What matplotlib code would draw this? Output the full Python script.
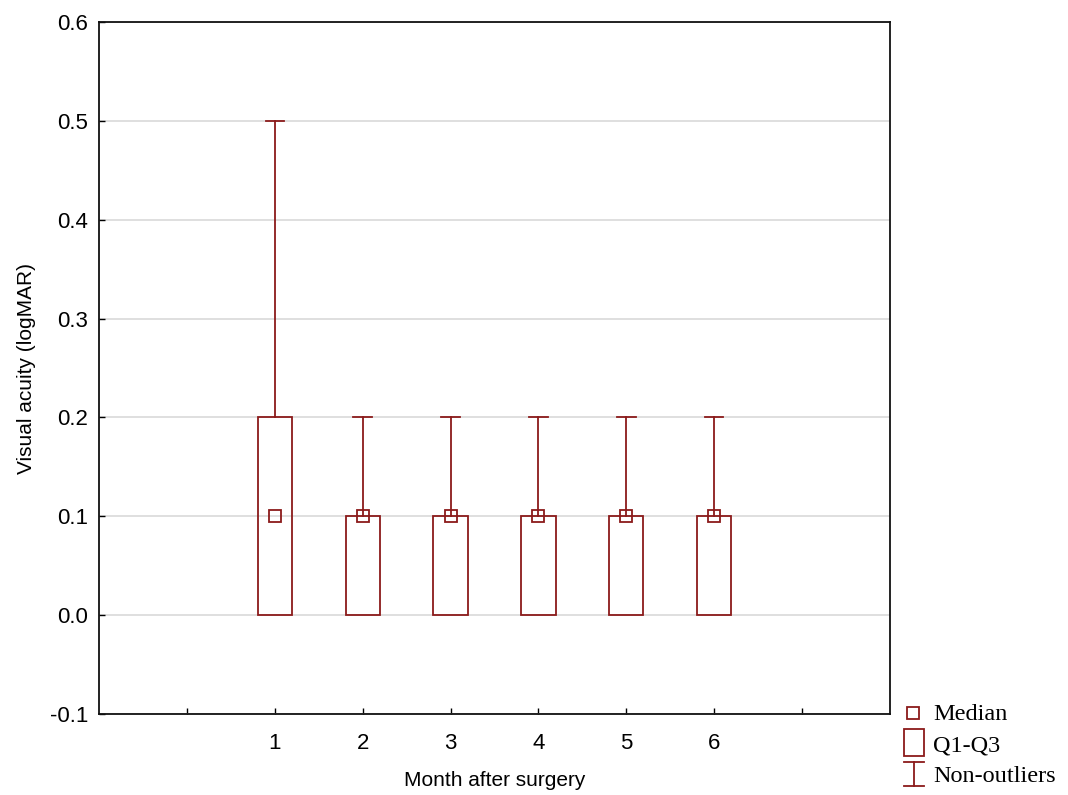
import matplotlib.pyplot as plt
from matplotlib.patches import Rectangle
from matplotlib.lines import Line2D

# データ
months = [1, 2, 3, 4, 5, 6]
medians = [0.1, 0.1, 0.1, 0.1, 0.1, 0.1]
q1 = [0.0, 0.0, 0.0, 0.0, 0.0, 0.0]
q3 = [0.2, 0.1, 0.1, 0.1, 0.1, 0.1]
whisk_lo = [0.0, 0.0, 0.0, 0.0, 0.0, 0.0]
whisk_hi = [0.5, 0.2, 0.2, 0.2, 0.2, 0.2]

col = "#8b1a1a"
plt.rcParams['font.family'] = ['Liberation Sans', 'DejaVu Sans']

fig = plt.figure(figsize=(10.68, 7.95), dpi=100)
ax = fig.add_axes([0.0927, 0.1019, 0.7406, 0.8704])

box_w = 0.39
cap_w = 0.21
for m, med, lo, hi, wl, wh in zip(months, medians, q1, q3, whisk_lo, whisk_hi):
    ax.add_patch(Rectangle((m - box_w / 2, lo), box_w, hi - lo,
                           fill=False, edgecolor=col, lw=1.3, zorder=3))
    ax.plot([m, m], [hi, wh], color=col, lw=1.3, zorder=3)
    ax.plot([m - cap_w / 2, m + cap_w / 2], [wh, wh], color=col, lw=1.3, zorder=3)
    ax.plot([m, m], [wl, lo], color=col, lw=1.3, zorder=3)
    ax.plot(m, med, marker="s", ms=8, mfc="none", mec=col, mew=1.3, zorder=4)

ax.set_xlim(-1, 8)
ax.set_ylim(-0.1, 0.6)
ax.set_xticks(range(0, 8))
ax.set_xticklabels([""] + [str(m) for m in months] + [""])
ax.set_yticks([-0.1, 0.0, 0.1, 0.2, 0.3, 0.4, 0.5, 0.6])
ax.set_yticklabels(["-0.1", "0.0", "0.1", "0.2", "0.3", "0.4", "0.5", "0.6"])
ax.yaxis.grid(True, color="#d9d9d9", lw=1.2, zorder=0)
ax.set_axisbelow(True)
ax.tick_params(direction="in", length=4, width=1, labelsize=16)
ax.tick_params(axis="x", pad=14)
ax.tick_params(axis="y", pad=8)
for s in ax.spines.values():
    s.set_linewidth(1.3)
    s.set_color("#111111")

ax.set_xlabel("Month after surgery", fontsize=15, labelpad=12)
ax.set_ylabel("Visual acuity (logMAR)", fontsize=15, labelpad=10)

# 凡例（右下、図座標で手描き）
def fx(px):
    return px / 1068

def fy(py):
    return 1 - py / 795

fig.add_artist(Line2D([fx(913)], [fy(713)], marker="s", ms=8, mfc="none",
                      mec=col, mew=1.3, transform=fig.transFigure))
fig.add_artist(Rectangle((fx(904), fy(756)), fx(924) - fx(904), fy(729) - fy(756),
                         fill=False, edgecolor=col, lw=1.3, transform=fig.transFigure))
fig.add_artist(Line2D([fx(914), fx(914)], [fy(762), fy(786)], color=col, lw=1.3,
                      transform=fig.transFigure))
fig.add_artist(Line2D([fx(904), fx(924)], [fy(762), fy(762)], color=col, lw=1.3,
                      transform=fig.transFigure))
fig.add_artist(Line2D([fx(904), fx(924)], [fy(786), fy(786)], color=col, lw=1.3,
                      transform=fig.transFigure))
for txt, py in [("Median", 715), ("Q1-Q3", 746), ("Non-outliers", 776)]:
    fig.text(fx(933), fy(py), txt, fontsize=17.5, va="center", ha="left",
             family=["Liberation Serif", "DejaVu Serif"])

plt.savefig("out.png", dpi=100)
plt.close()
